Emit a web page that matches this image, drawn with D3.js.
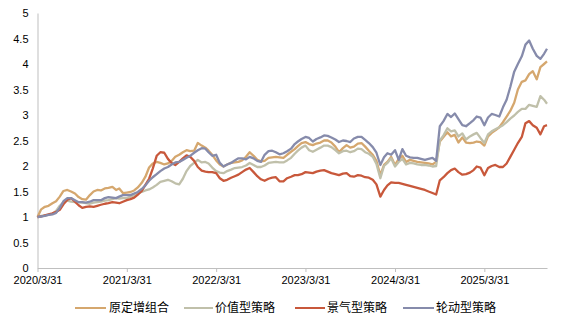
<!DOCTYPE html>
<html>
<head>
<meta charset="utf-8">
<script src="https://cdn.jsdelivr.net/npm/d3@7"></script>
<style>
  html, body { margin: 0; padding: 0; background: #ffffff; }
  svg { display: block; }
</style>
</head>
<body>
<svg id="chart" width="571" height="325"></svg>
<script>
// Semi-monthly observation dates
const dates = ("2020-03-31 2020-04-15 2020-04-30 2020-05-15 2020-05-31 2020-06-15 2020-06-30 2020-07-15 2020-07-31 2020-08-15 2020-08-31 2020-09-15 2020-09-30 2020-10-15 2020-10-31 2020-11-15 2020-11-30 2020-12-15 2020-12-31 " +
  "2021-01-15 2021-01-31 2021-02-15 2021-02-28 2021-03-15 2021-03-31 2021-04-15 2021-04-30 2021-05-15 2021-05-31 2021-06-15 2021-06-30 2021-07-15 2021-07-31 2021-08-15 2021-08-31 2021-09-15 2021-09-30 2021-10-15 2021-10-31 2021-11-15 2021-11-30 2021-12-15 2021-12-31 " +
  "2022-01-15 2022-01-31 2022-02-15 2022-02-28 2022-03-15 2022-03-31 2022-04-15 2022-04-30 2022-05-15 2022-05-31 2022-06-15 2022-06-30 2022-07-15 2022-07-31 2022-08-15 2022-08-31 2022-09-15 2022-09-30 2022-10-15 2022-10-31 2022-11-15 2022-11-30 2022-12-15 2022-12-31 " +
  "2023-01-15 2023-01-31 2023-02-15 2023-02-28 2023-03-15 2023-03-31 2023-04-15 2023-04-30 2023-05-15 2023-05-31 2023-06-15 2023-06-30 2023-07-15 2023-07-31 2023-08-15 2023-08-31 2023-09-15 2023-09-30 2023-10-15 2023-10-31 2023-11-15 2023-11-30 2023-12-15 2023-12-31 " +
  "2024-01-15 2024-01-31 2024-02-15 2024-02-29 2024-03-15 2024-03-31 2024-04-15 2024-04-30 2024-05-15 2024-05-31 2024-06-15 2024-06-30 2024-07-15 2024-07-31 2024-08-15 2024-08-31 2024-09-15 2024-09-30 2024-10-15 2024-10-31 2024-11-15 2024-11-30 2024-12-15 2024-12-31 " +
  "2025-01-15 2025-01-31 2025-02-15 2025-02-28 2025-03-15 2025-03-31 2025-04-15 2025-04-30 2025-05-15 2025-05-31 2025-06-15 2025-06-30 2025-07-15 2025-07-31 2025-08-15 2025-08-31 2025-09-15 2025-09-30 2025-10-15 2025-10-31 2025-11-15 2025-11-30 2025-12-12").split(" ");

// 原定增组合 net value
const seriesOriginal = [
  1.00,1.15,1.20,1.22,1.27,1.31,1.40,1.51,1.53,1.50,1.46,1.39,1.35,1.34,1.43,1.50,1.53,1.52,1.56,
  1.57,1.59,1.53,1.56,1.47,1.48,1.49,1.52,1.58,1.67,1.79,1.97,2.05,2.08,2.06,2.03,2.05,2.10,2.18,2.22,2.27,2.31,2.29,2.30,
  2.45,2.40,2.36,2.30,2.22,2.11,2.03,1.99,2.03,2.06,2.07,2.08,2.11,2.18,2.27,2.20,2.12,2.09,2.10,2.16,2.17,2.18,2.17,2.16,
  2.22,2.28,2.33,2.39,2.45,2.47,2.43,2.41,2.44,2.46,2.50,2.50,2.46,2.38,2.27,2.35,2.41,2.36,2.38,2.44,2.45,2.38,2.30,2.22,
  2.10,1.82,2.02,2.08,2.18,2.02,2.14,2.20,2.08,2.12,2.10,2.08,2.07,2.06,2.05,2.03,2.08,2.48,2.57,2.66,2.58,2.61,2.46,2.56,
  2.46,2.45,2.46,2.48,2.47,2.40,2.58,2.65,2.70,2.76,2.86,2.97,3.08,3.24,3.50,3.65,3.68,3.80,3.86,3.70,3.94,4.00,4.05
];

// 价值型策略 net value
const seriesValue = [
  1.00,1.02,1.03,1.04,1.06,1.12,1.22,1.29,1.32,1.30,1.29,1.29,1.28,1.27,1.26,1.28,1.29,1.30,1.32,
  1.33,1.35,1.37,1.36,1.37,1.37,1.40,1.43,1.47,1.49,1.52,1.54,1.58,1.63,1.69,1.71,1.73,1.70,1.66,1.64,1.75,1.90,2.00,2.06,
  2.12,2.07,2.08,2.05,1.97,1.90,1.87,1.86,1.90,1.93,1.96,1.97,1.98,2.01,2.06,2.02,1.98,1.98,2.01,2.06,2.07,2.08,2.07,2.07,
  2.11,2.16,2.24,2.30,2.36,2.40,2.31,2.28,2.32,2.36,2.40,2.40,2.37,2.31,2.25,2.29,2.30,2.27,2.29,2.34,2.33,2.27,2.24,2.18,
  2.04,1.76,2.00,2.06,2.15,1.99,2.08,2.14,2.03,2.06,2.05,2.03,2.02,2.02,2.01,1.99,2.00,2.50,2.60,2.74,2.68,2.70,2.58,2.64,
  2.52,2.58,2.62,2.65,2.55,2.45,2.62,2.68,2.72,2.76,2.80,2.86,2.93,2.99,3.06,3.12,3.12,3.20,3.18,3.16,3.37,3.30,3.22
];

// 景气型策略 net value
const seriesProsperity = [
  1.00,1.01,1.03,1.05,1.07,1.10,1.14,1.25,1.34,1.37,1.30,1.23,1.18,1.20,1.21,1.20,1.22,1.24,1.26,
  1.27,1.29,1.28,1.27,1.30,1.33,1.35,1.38,1.44,1.51,1.63,1.75,1.95,2.20,2.27,2.26,2.14,2.06,2.02,2.08,2.15,2.21,2.18,2.10,
  1.98,1.91,1.89,1.88,1.88,1.86,1.76,1.71,1.73,1.77,1.80,1.83,1.88,1.93,1.96,1.88,1.80,1.74,1.71,1.75,1.77,1.78,1.70,1.70,
  1.76,1.79,1.82,1.82,1.84,1.88,1.87,1.86,1.89,1.91,1.92,1.89,1.86,1.84,1.82,1.85,1.86,1.80,1.79,1.82,1.81,1.78,1.77,1.73,
  1.64,1.40,1.53,1.62,1.68,1.67,1.67,1.65,1.63,1.61,1.59,1.57,1.55,1.53,1.50,1.47,1.44,1.72,1.78,1.86,1.92,1.95,1.88,1.83,
  1.84,1.87,1.92,1.99,1.97,1.82,1.96,2.00,2.02,1.98,1.98,2.05,2.18,2.32,2.45,2.57,2.84,2.88,2.80,2.75,2.62,2.78,2.80
];

// 轮动型策略 net value
const seriesRotation = [
  1.00,1.01,1.02,1.04,1.05,1.08,1.18,1.31,1.37,1.37,1.33,1.29,1.29,1.28,1.30,1.33,1.33,1.33,1.37,
  1.39,1.38,1.37,1.40,1.43,1.43,1.43,1.46,1.49,1.55,1.62,1.71,1.78,1.84,1.90,1.95,1.98,2.03,2.07,2.08,2.12,2.16,2.20,2.26,
  2.31,2.35,2.34,2.27,2.20,2.22,2.06,1.99,2.03,2.06,2.11,2.15,2.15,2.13,2.18,2.15,2.10,2.08,2.22,2.29,2.30,2.27,2.23,2.25,
  2.29,2.34,2.43,2.48,2.53,2.57,2.55,2.48,2.53,2.56,2.60,2.59,2.56,2.52,2.47,2.50,2.49,2.47,2.54,2.57,2.57,2.51,2.45,2.37,
  2.26,2.02,2.17,2.25,2.22,2.31,2.12,2.33,2.20,2.17,2.16,2.16,2.14,2.12,2.14,2.16,2.10,2.78,2.88,3.02,2.96,3.03,2.92,2.80,
  2.78,2.84,2.90,2.97,2.95,2.80,2.95,3.02,3.00,2.97,3.15,3.30,3.55,3.85,4.00,4.15,4.38,4.46,4.30,4.16,4.10,4.20,4.30
];

const seriesNames = ["原定增组合", "价值型策略", "景气型策略", "轮动型策略"];
const seriesColors = ["#d5a76e", "#c0c0aa", "#c8583b", "#868bab"];
const seriesValues = [seriesOriginal, seriesValue, seriesProsperity, seriesRotation];

const xTickDates = ["2020-03-31", "2021-03-31", "2022-03-31", "2023-03-31", "2024-03-31", "2025-03-31"];
const xTickLabels = ["2020/3/31", "2021/3/31", "2022/3/31", "2023/3/31", "2024/3/31", "2025/3/31"];
const yTicks = [0, 0.5, 1, 1.5, 2, 2.5, 3, 3.5, 4, 4.5, 5];
const yTickLabels = ["0", "0.5", "1", "1.5", "2", "2.5", "3", "3.5", "4", "4.5", "5"];

const parse = d3.timeParse("%Y-%m-%d");
const dateObjs = dates.map(parse);

const svg = d3.select("#chart");
const plot = { left: 37.5, right: 547, top: 13, bottom: 268 };

const x = d3.scaleTime()
  .domain([dateObjs[0], dateObjs[dateObjs.length - 1]])
  .range([plot.left, plot.right]);
const y = d3.scaleLinear().domain([0, 5]).range([plot.bottom, plot.top]);

const axisColor = "#bfbfbf";
const tickFont = "'Liberation Sans', Arial, sans-serif";

// y axis: line with labels only
const yAxis = d3.axisLeft(y)
  .tickValues(yTicks)
  .tickFormat((d, i) => yTickLabels[i])
  .tickSize(0)
  .tickPadding(9);
const gy = svg.append("g").attr("transform", `translate(${plot.left},0)`).call(yAxis);
gy.select(".domain").attr("stroke", axisColor).attr("stroke-width", 1);
gy.selectAll("text").attr("font-family", tickFont).attr("font-size", 11).attr("fill", "#000");

// x axis: yearly ticks pointing down
const xAxis = d3.axisBottom(x)
  .tickValues(xTickDates.map(parse))
  .tickFormat((d, i) => xTickLabels[i])
  .tickSizeInner(4)
  .tickSizeOuter(0)
  .tickPadding(4);
const gx = svg.append("g").attr("transform", `translate(0,${plot.bottom})`).call(xAxis);
gx.select(".domain").attr("stroke", axisColor).attr("stroke-width", 1);
gx.selectAll(".tick line").attr("stroke", axisColor);
gx.selectAll("text").attr("font-family", tickFont).attr("font-size", 11).attr("fill", "#000");

// series lines
const line = d3.line()
  .x((d, i) => x(dateObjs[i]))
  .y(d => y(d));

seriesValues.forEach((vals, k) => {
  svg.append("path")
    .datum(vals)
    .attr("fill", "none")
    .attr("stroke", seriesColors[k])
    .attr("stroke-width", 2.3)
    .attr("stroke-linejoin", "round")
    .attr("d", line);
});

// legend
const legendY = 308;
const legendItems = [
  { x0: 75, x1: 106, tx: 109 },
  { x0: 184, x1: 213, tx: 215 },
  { x0: 295, x1: 325, tx: 327 },
  { x0: 403, x1: 434, tx: 436 }
];
const legend = svg.append("g");
legendItems.forEach((it, k) => {
  legend.append("line")
    .attr("x1", it.x0).attr("x2", it.x1)
    .attr("y1", legendY).attr("y2", legendY)
    .attr("stroke", seriesColors[k]).attr("stroke-width", 2);
  legend.append("text")
    .attr("x", it.tx).attr("y", legendY)
    .attr("dy", "0.35em")
    .attr("font-family", "'Noto Sans CJK SC', sans-serif")
    .attr("font-size", 12)
    .attr("fill", "#000")
    .text(seriesNames[k]);
});
</script>
</body>
</html>
